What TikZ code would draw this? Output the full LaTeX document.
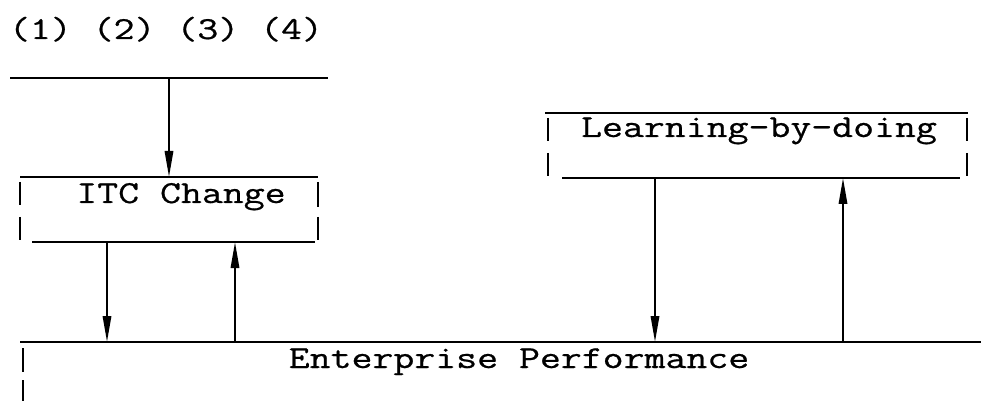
\documentclass[tikz,border=0pt]{standalone}
\usepackage{fontspec}
\newfontfamily\typewriter{Latin Modern Mono}[AutoFakeBold=0.6]
\usetikzlibrary{arrows.meta}
\begin{document}
\begin{tikzpicture}[x=0.5pt,y=-0.5pt,
  rule/.style={line width=1pt},
  side/.style={line width=1pt},
  flow/.style={line width=1pt,-{Triangle[length=13pt,width=4.2pt]}},
  caption/.style={font=\typewriter\bfseries\fontsize{16}{20}\selectfont,
    inner sep=0pt,anchor=base,xscale=1.27}]
\fill[white] (0,0) rectangle (981,401);
\useasboundingbox (0,0) rectangle (981,401);

% labels
\node[caption] (inputs) at (166,39) {(1) (2) (3) (4)};
\node[caption] (itc) at (181,203) {ITC Change};
\node[caption] (lbd) at (759,137) {Learning-by-doing};
\node[caption] (ep) at (519,368) {Enterprise Performance};

% input rule
\coordinate (inL) at (10,78);
\coordinate (inR) at (328,78);
\coordinate (inMid) at (169,78);
\draw[rule] (inL) -- (inR);

% ITC Change box
\coordinate (itcTL) at (20,177);
\coordinate (itcTR) at (318,177);
\coordinate (itcIn) at (169,177);
\coordinate (itcBL) at (32,242);
\coordinate (itcBR) at (315,242);
\coordinate (itcOut) at (107,242);
\coordinate (itcBack) at (235,242);
\draw[rule] (itcTL) -- (itcTR);
\draw[rule] (itcBL) -- (itcBR);
\draw[side] (20,182) -- (20,205) (20,217) -- (20,240);
\draw[side] (318,182) -- (318,207) (318,217) -- (318,240);

% Learning-by-doing box
\coordinate (lbdTL) at (545,113);
\coordinate (lbdTR) at (968,113);
\coordinate (lbdBL) at (562,178);
\coordinate (lbdBR) at (960,178);
\coordinate (lbdOut) at (655,178);
\coordinate (lbdBack) at (843,178);
\draw[rule] (lbdTL) -- (lbdTR);
\draw[rule] (lbdBL) -- (lbdBR);
\draw[side] (548,118) -- (548,141) (548,153) -- (548,176);
\draw[side] (967,118) -- (967,141) (967,153) -- (967,176);

% Enterprise Performance box
\coordinate (epL) at (20,342);
\coordinate (epR) at (981,342);
\coordinate (epA) at (107,342);
\coordinate (epB) at (235,342);
\coordinate (epC) at (655,342);
\coordinate (epD) at (843,342);
\draw[rule] (epL) -- (epR);
\draw[side] (23,348) -- (23,372) (23,380) -- (23,401);

% flows
\draw[flow] (inMid) -- (itcIn);
\draw[flow] (itcOut) -- (epA);
\draw[flow] (epB) -- (itcBack);
\draw[flow] (lbdOut) -- (epC);
\draw[flow] (epD) -- (lbdBack);
\end{tikzpicture}
\end{document}
